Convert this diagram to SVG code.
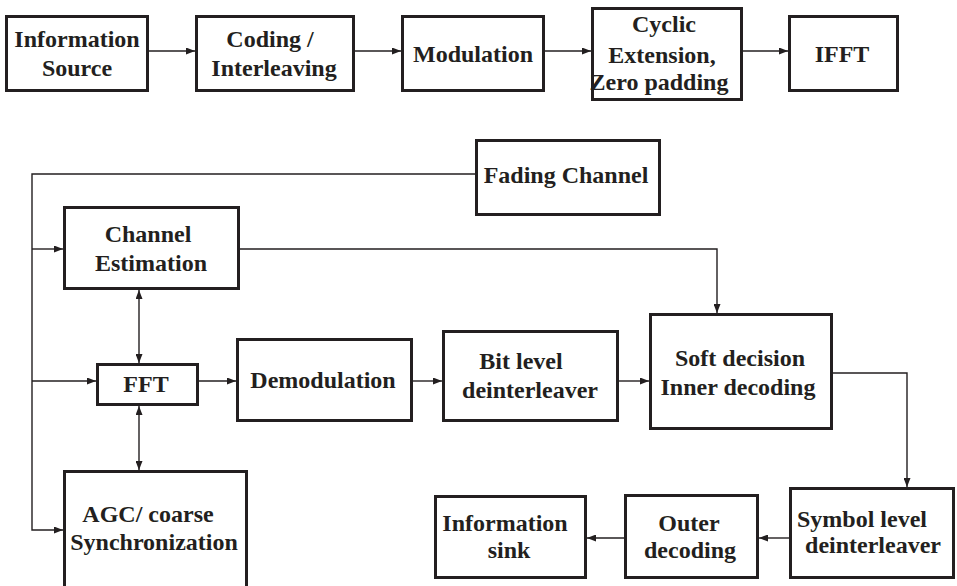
<svg xmlns="http://www.w3.org/2000/svg" width="957" height="586" viewBox="0 0 957 586">
  <style>
    .box { fill: #fff; stroke: #231f20; stroke-width: 3; }
    .lbl { font-family: "Liberation Serif", "Times New Roman", serif; font-weight: bold; font-size: 24px; fill: #231f20; text-anchor: middle; }
    .wire { fill: none; stroke: #231f20; stroke-width: 1.4; }
    .arr { marker-end: url(#head); }
    .both { marker-start: url(#tail); marker-end: url(#head); }
  </style>
  <defs>
    <marker id="head" markerUnits="userSpaceOnUse" viewBox="0 0 9 7" refX="9" refY="3.5" markerWidth="9" markerHeight="7" orient="auto">
      <path d="M0,0 L9,3.5 L0,7 Z" fill="#231f20"/>
    </marker>
    <marker id="tail" markerUnits="userSpaceOnUse" viewBox="0 0 9 7" refX="0" refY="3.5" markerWidth="9" markerHeight="7" orient="auto">
      <path d="M9,0 L0,3.5 L9,7 Z" fill="#231f20"/>
    </marker>
  </defs>
  <rect width="957" height="586" fill="#fff"/>

  <!-- transmitter chain -->
  <g id="info-source">
    <rect class="box" x="6.5" y="16.5" width="141" height="74"/>
    <text class="lbl" x="77" y="47">Information</text>
    <text class="lbl" x="77" y="76">Source</text>
  </g>
  <g id="coding">
    <rect class="box" x="196.5" y="16.5" width="157" height="74"/>
    <text class="lbl" x="270" y="47">Coding /</text>
    <text class="lbl" x="274" y="76">Interleaving</text>
  </g>
  <g id="modulation">
    <rect class="box" x="402.5" y="16.5" width="141" height="74"/>
    <text class="lbl" x="473" y="62">Modulation</text>
  </g>
  <g id="cyclic-ext">
    <rect class="box" x="592.5" y="8.5" width="149" height="91"/>
    <text class="lbl" x="664" y="32">Cyclic</text>
    <text class="lbl" x="662" y="63">Extension,</text>
    <text class="lbl" x="659" y="90">Zero padding</text>
  </g>
  <g id="ifft">
    <rect class="box" x="789.5" y="16.5" width="108" height="74"/>
    <text class="lbl" x="842" y="62">IFFT</text>
  </g>

  <!-- receiver chain -->
  <g id="fading-channel">
    <rect class="box" x="476.5" y="140.5" width="183" height="74"/>
    <text class="lbl" x="566" y="183">Fading Channel</text>
  </g>
  <g id="channel-estimation">
    <rect class="box" x="64.5" y="207.5" width="174" height="81"/>
    <text class="lbl" x="148" y="242">Channel</text>
    <text class="lbl" x="151" y="271">Estimation</text>
  </g>
  <g id="fft">
    <rect class="box" x="97.5" y="364.5" width="100" height="40"/>
    <text class="lbl" x="146" y="392">FFT</text>
  </g>
  <g id="demodulation">
    <rect class="box" x="237.5" y="339.5" width="174" height="81"/>
    <text class="lbl" x="323" y="388">Demodulation</text>
  </g>
  <g id="bit-deinterleaver">
    <rect class="box" x="443.5" y="331.5" width="174" height="89"/>
    <text class="lbl" x="521" y="369">Bit level</text>
    <text class="lbl" x="530" y="398">deinterleaver</text>
  </g>
  <g id="inner-decoding">
    <rect class="box" x="650.5" y="314.5" width="181" height="114"/>
    <text class="lbl" x="740" y="366">Soft decision</text>
    <text class="lbl" x="738" y="395">Inner decoding</text>
  </g>
  <g id="agc-sync">
    <rect class="box" x="64.5" y="471.5" width="182" height="130"/>
    <text class="lbl" x="148" y="522">AGC/ coarse</text>
    <text class="lbl" x="154" y="550">Synchronization</text>
  </g>
  <g id="symbol-deinterleaver">
    <rect class="box" x="790.5" y="488.5" width="163" height="89"/>
    <text class="lbl" x="862" y="527">Symbol level</text>
    <text class="lbl" x="873" y="553">deinterleaver</text>
  </g>
  <g id="outer-decoding">
    <rect class="box" x="625.5" y="495.5" width="132" height="82"/>
    <text class="lbl" x="689" y="531">Outer</text>
    <text class="lbl" x="690" y="558">decoding</text>
  </g>
  <g id="info-sink">
    <rect class="box" x="435.5" y="496.5" width="150" height="81"/>
    <text class="lbl" x="505" y="531">Information</text>
    <text class="lbl" x="509" y="558">sink</text>
  </g>

  <!-- connectors -->
  <g id="connectors">
    <path class="wire arr" d="M149,51 H195"/>
    <path class="wire arr" d="M355,51 H401"/>
    <path class="wire arr" d="M545,51 H591"/>
    <path class="wire arr" d="M743,51 H788"/>

    <path class="wire arr" d="M476,174 H32 V530 H63"/>
    <path class="wire arr" d="M32,249 H63"/>
    <path class="wire arr" d="M32,381 H96"/>

    <path class="wire arr" d="M240,249 H717 V313"/>
    <path class="wire both" d="M139,290 V363"/>
    <path class="wire both" d="M139,406 V470"/>

    <path class="wire arr" d="M199,381 H236"/>
    <path class="wire arr" d="M413,381 H442"/>
    <path class="wire arr" d="M619,381 H649"/>

    <path class="wire arr" d="M833,373 H907 V487"/>
    <path class="wire arr" d="M789,538 H759"/>
    <path class="wire arr" d="M624,538 H587"/>
  </g>
</svg>
